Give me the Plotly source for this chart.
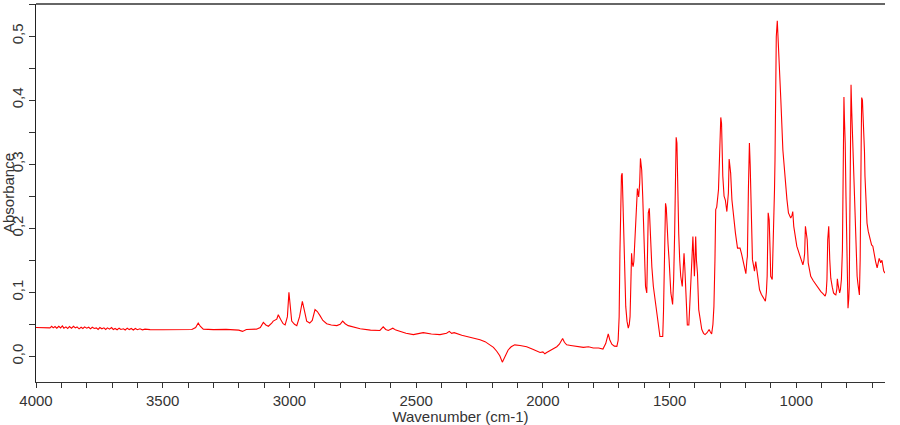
import plotly.graph_objects as go

# Wavenumber (cm-1), descending
wavenumber = [
    4000, 3960, 3950, 3945, 3938, 3932, 3925, 3918, 3910, 3903, 3896, 3890, 3882, 3875, 3868, 3860,
    3852, 3845, 3838, 3830, 3822, 3815, 3808, 3800, 3792, 3785, 3778, 3770, 3762, 3755, 3748, 3740,
    3732, 3725, 3718, 3710, 3702, 3695, 3688, 3680, 3672, 3665,
    3655, 3648, 3640, 3632, 3624, 3616, 3608, 3600, 3590, 3580, 3570, 3560, 3550,
    3500, 3450, 3400, 3385, 3370, 3360, 3352, 3340, 3300, 3250, 3200, 3185, 3170, 3130,
    3115, 3103, 3093, 3083, 3070, 3064, 3050, 3044, 3035, 3025, 3017, 3008, 3002, 2997, 2991, 2980,
    2971, 2960, 2949, 2940, 2932, 2920, 2910, 2899, 2890, 2880, 2868, 2853, 2835, 2813, 2800, 2790,
    2780, 2768, 2740, 2721, 2680, 2643, 2630, 2620, 2610, 2600, 2592, 2580, 2563, 2540, 2511, 2490,
    2472, 2440, 2406, 2380, 2369, 2360, 2350, 2320, 2287, 2260, 2248, 2228, 2208, 2195, 2182, 2170,
    2160, 2150, 2137, 2125, 2111, 2090, 2064, 2040, 2025, 2011, 2000, 1992, 1985, 1970, 1959, 1945,
    1935, 1926, 1922, 1915, 1906, 1890, 1866, 1840, 1820, 1801, 1780, 1763, 1752, 1746, 1742, 1736,
    1728, 1718, 1708, 1703, 1699, 1696, 1693, 1690, 1687, 1684, 1682, 1678, 1673, 1668, 1663, 1659,
    1656, 1653, 1650, 1647, 1644, 1641, 1637, 1632, 1627, 1622, 1618, 1615, 1612, 1610, 1606, 1603,
    1599, 1595, 1590, 1587, 1584, 1580, 1577, 1574, 1570, 1564, 1557, 1551, 1545, 1538, 1532, 1527,
    1524, 1522, 1519, 1516, 1513, 1510, 1506, 1502, 1495, 1488, 1484, 1480, 1477, 1474, 1471, 1468,
    1464, 1460, 1456, 1450, 1446, 1443, 1440, 1436, 1430, 1424, 1421, 1418, 1412, 1408, 1405, 1402,
    1399, 1397, 1394, 1390, 1385, 1379, 1373, 1366, 1360, 1352, 1344, 1339, 1334, 1329, 1325, 1321,
    1318, 1314, 1310, 1307, 1303, 1298, 1295, 1293, 1290, 1285, 1280, 1274, 1271, 1268, 1265, 1262,
    1259, 1254, 1246, 1240, 1232, 1222, 1216, 1211, 1205, 1199, 1195, 1193, 1189, 1185, 1182, 1180,
    1176, 1173, 1168, 1165, 1160, 1155, 1150, 1145, 1138, 1131, 1122, 1118, 1115, 1111, 1107, 1103,
    1101, 1095, 1092, 1090, 1086, 1084, 1081, 1079, 1075, 1072, 1068, 1061, 1053, 1044, 1037, 1031,
    1022, 1017, 1014, 1010, 1004, 998, 985, 974, 970, 967, 964, 961, 957, 953, 943, 933,
    923, 913, 903, 895, 886, 882, 879, 876, 872, 868, 864, 858, 853, 848, 844, 840,
    838, 835, 832, 829, 826, 822, 818, 816, 815, 812, 810, 807, 804, 801, 798, 796,
    793, 791, 789, 787, 784, 781, 778, 776, 773, 770, 767, 764, 760, 757, 754, 751,
    748, 746, 744, 742, 739, 737, 734, 731, 729, 725, 721, 716, 712, 707, 703, 698,
    692, 687, 681, 676, 673, 670, 667, 662, 658, 655, 650,
]

absorbance = [
    0.045, 0.045, 0.0452, 0.0445, 0.047, 0.0445, 0.0465, 0.044, 0.047, 0.0445, 0.0475, 0.044, 0.046, 0.0435, 0.0465, 0.044,
    0.047, 0.0445, 0.046, 0.043, 0.0455, 0.0435, 0.046, 0.044, 0.0455, 0.043, 0.0455, 0.0435, 0.0445, 0.042, 0.045, 0.043,
    0.0445, 0.042, 0.0445, 0.0425, 0.045, 0.042, 0.0435, 0.0415, 0.044, 0.042,
    0.043, 0.0412, 0.044, 0.0418, 0.0435, 0.0412, 0.0435, 0.0416, 0.043, 0.0414, 0.0425, 0.0417, 0.0418,
    0.0416, 0.0416, 0.0418, 0.042, 0.045, 0.052, 0.047, 0.0425, 0.0418, 0.0422, 0.041, 0.039, 0.042, 0.0425,
    0.045, 0.053, 0.049, 0.047, 0.052, 0.055, 0.058, 0.065, 0.058, 0.051, 0.049, 0.062, 0.100, 0.080, 0.055, 0.050,
    0.048, 0.062, 0.086, 0.070, 0.055, 0.052, 0.056, 0.073, 0.070, 0.064, 0.056, 0.051, 0.049, 0.048, 0.050, 0.055,
    0.051, 0.048, 0.045, 0.043, 0.041, 0.0405, 0.046, 0.042, 0.0405, 0.043, 0.044, 0.041, 0.039, 0.036, 0.034, 0.036,
    0.037, 0.035, 0.034, 0.036, 0.039, 0.036, 0.037, 0.033, 0.030, 0.028, 0.026, 0.023, 0.018, 0.014, 0.008, 0.001,
    -0.009, 0.000, 0.010, 0.015, 0.018, 0.017, 0.015, 0.011, 0.008, 0.006, 0.007, 0.004, 0.006, 0.009, 0.0115, 0.015,
    0.019, 0.025, 0.028, 0.022, 0.018, 0.017, 0.015, 0.014, 0.015, 0.013, 0.013, 0.0115, 0.020, 0.032, 0.035, 0.026,
    0.019, 0.016, 0.0156, 0.025, 0.062, 0.160, 0.265, 0.282, 0.286, 0.240, 0.192, 0.120, 0.078, 0.055, 0.044, 0.050,
    0.062, 0.110, 0.161, 0.145, 0.140, 0.148, 0.180, 0.213, 0.262, 0.249, 0.270, 0.309, 0.300, 0.291, 0.250, 0.203,
    0.150, 0.109, 0.099, 0.150, 0.224, 0.231, 0.200, 0.166, 0.140, 0.109, 0.090, 0.068, 0.052, 0.031, 0.031, 0.031,
    0.070, 0.120, 0.190, 0.239, 0.232, 0.198, 0.175, 0.151, 0.099, 0.081, 0.120, 0.192, 0.270, 0.342, 0.333, 0.244,
    0.192, 0.150, 0.125, 0.109, 0.130, 0.161, 0.140, 0.100, 0.049, 0.049, 0.070, 0.099, 0.150, 0.187, 0.150, 0.125,
    0.160, 0.187, 0.150, 0.130, 0.073, 0.055, 0.042, 0.036, 0.034, 0.037, 0.042, 0.038, 0.035, 0.050, 0.078, 0.150,
    0.229, 0.233, 0.245, 0.260, 0.310, 0.373, 0.364, 0.330, 0.281, 0.250, 0.244, 0.226, 0.240, 0.255, 0.308, 0.300,
    0.286, 0.244, 0.210, 0.192, 0.169, 0.169, 0.160, 0.151, 0.140, 0.129, 0.150, 0.156, 0.260, 0.333, 0.300, 0.255,
    0.200, 0.151, 0.140, 0.133, 0.148, 0.130, 0.118, 0.104, 0.097, 0.091, 0.086, 0.100, 0.125, 0.224, 0.213, 0.160,
    0.125, 0.120, 0.160, 0.198, 0.260, 0.307, 0.420, 0.499, 0.524, 0.500, 0.452, 0.400, 0.322, 0.270, 0.245, 0.224,
    0.216, 0.220, 0.226, 0.203, 0.188, 0.172, 0.156, 0.143, 0.150, 0.161, 0.203, 0.195, 0.182, 0.146, 0.125, 0.118,
    0.112, 0.106, 0.101, 0.098, 0.094, 0.100, 0.120, 0.182, 0.203, 0.151, 0.122, 0.108, 0.099, 0.097, 0.096, 0.105,
    0.121, 0.112, 0.104, 0.099, 0.104, 0.120, 0.166, 0.300, 0.395, 0.405, 0.370, 0.333, 0.250, 0.156, 0.110, 0.075,
    0.090, 0.109, 0.200, 0.307, 0.424, 0.380, 0.340, 0.307, 0.270, 0.234, 0.190, 0.146, 0.125, 0.114, 0.105, 0.096,
    0.150, 0.203, 0.330, 0.404, 0.400, 0.380, 0.353, 0.320, 0.281, 0.240, 0.208, 0.195, 0.187, 0.180, 0.174, 0.172,
    0.156, 0.148, 0.138, 0.145, 0.153, 0.150, 0.146, 0.150, 0.140, 0.133, 0.130,
]

x_title = "Wavenumber (cm-1)"
y_title = "Absorbance"

FONT = "Liberation Sans, Arial, sans-serif"
TXT = "#333333"

fig = go.Figure()
fig.add_trace(go.Scatter(
    x=wavenumber, y=absorbance, mode="lines",
    line=dict(color="#ff0000", width=1.1),
    showlegend=False, hoverinfo="x+y",
))

fig.update_layout(
    width=900, height=425,
    margin=dict(l=36, r=15, t=4, b=43),
    paper_bgcolor="white", plot_bgcolor="white",
    separators=",.",
    font=dict(family=FONT, size=15, color=TXT),
    xaxis=dict(
        range=[4000, 650], autorange=False,
        showline=True, linecolor="#333333", linewidth=1,
        ticks="outside", ticklen=5, tickcolor="#333333", tickwidth=1,
        tick0=0, dtick=500,
        minor=dict(dtick=100, ticks="outside", ticklen=5, tickcolor="#333333", tickwidth=1, showgrid=False),
        showgrid=False, zeroline=False,
        title=dict(text=x_title, standoff=1, font=dict(size=15)),
        automargin=False,
    ),
    yaxis=dict(
        range=[-0.04, 0.55], autorange=False,
        showline=True, linecolor="#222222", linewidth=1,
        ticks="outside", ticklen=6, tickcolor="#333333", tickwidth=1,
        tick0=0, dtick=0.1, tickformat=".1f", tickangle=-90,
        minor=dict(dtick=0.05, ticks="outside", ticklen=6, tickcolor="#333333", tickwidth=1, showgrid=False),
        showgrid=False, zeroline=False,
        title=dict(text=y_title, standoff=0, font=dict(size=15)),
        automargin=False,
    ),
    shapes=[dict(type="line", xref="paper", yref="paper", x0=0, x1=1, y0=1, y1=1,
                 line=dict(color="#666666", width=2))],
)

fig.write_html("out.html", config={"displayModeBar": False},
               post_script="document.body.style.margin='0px';")
